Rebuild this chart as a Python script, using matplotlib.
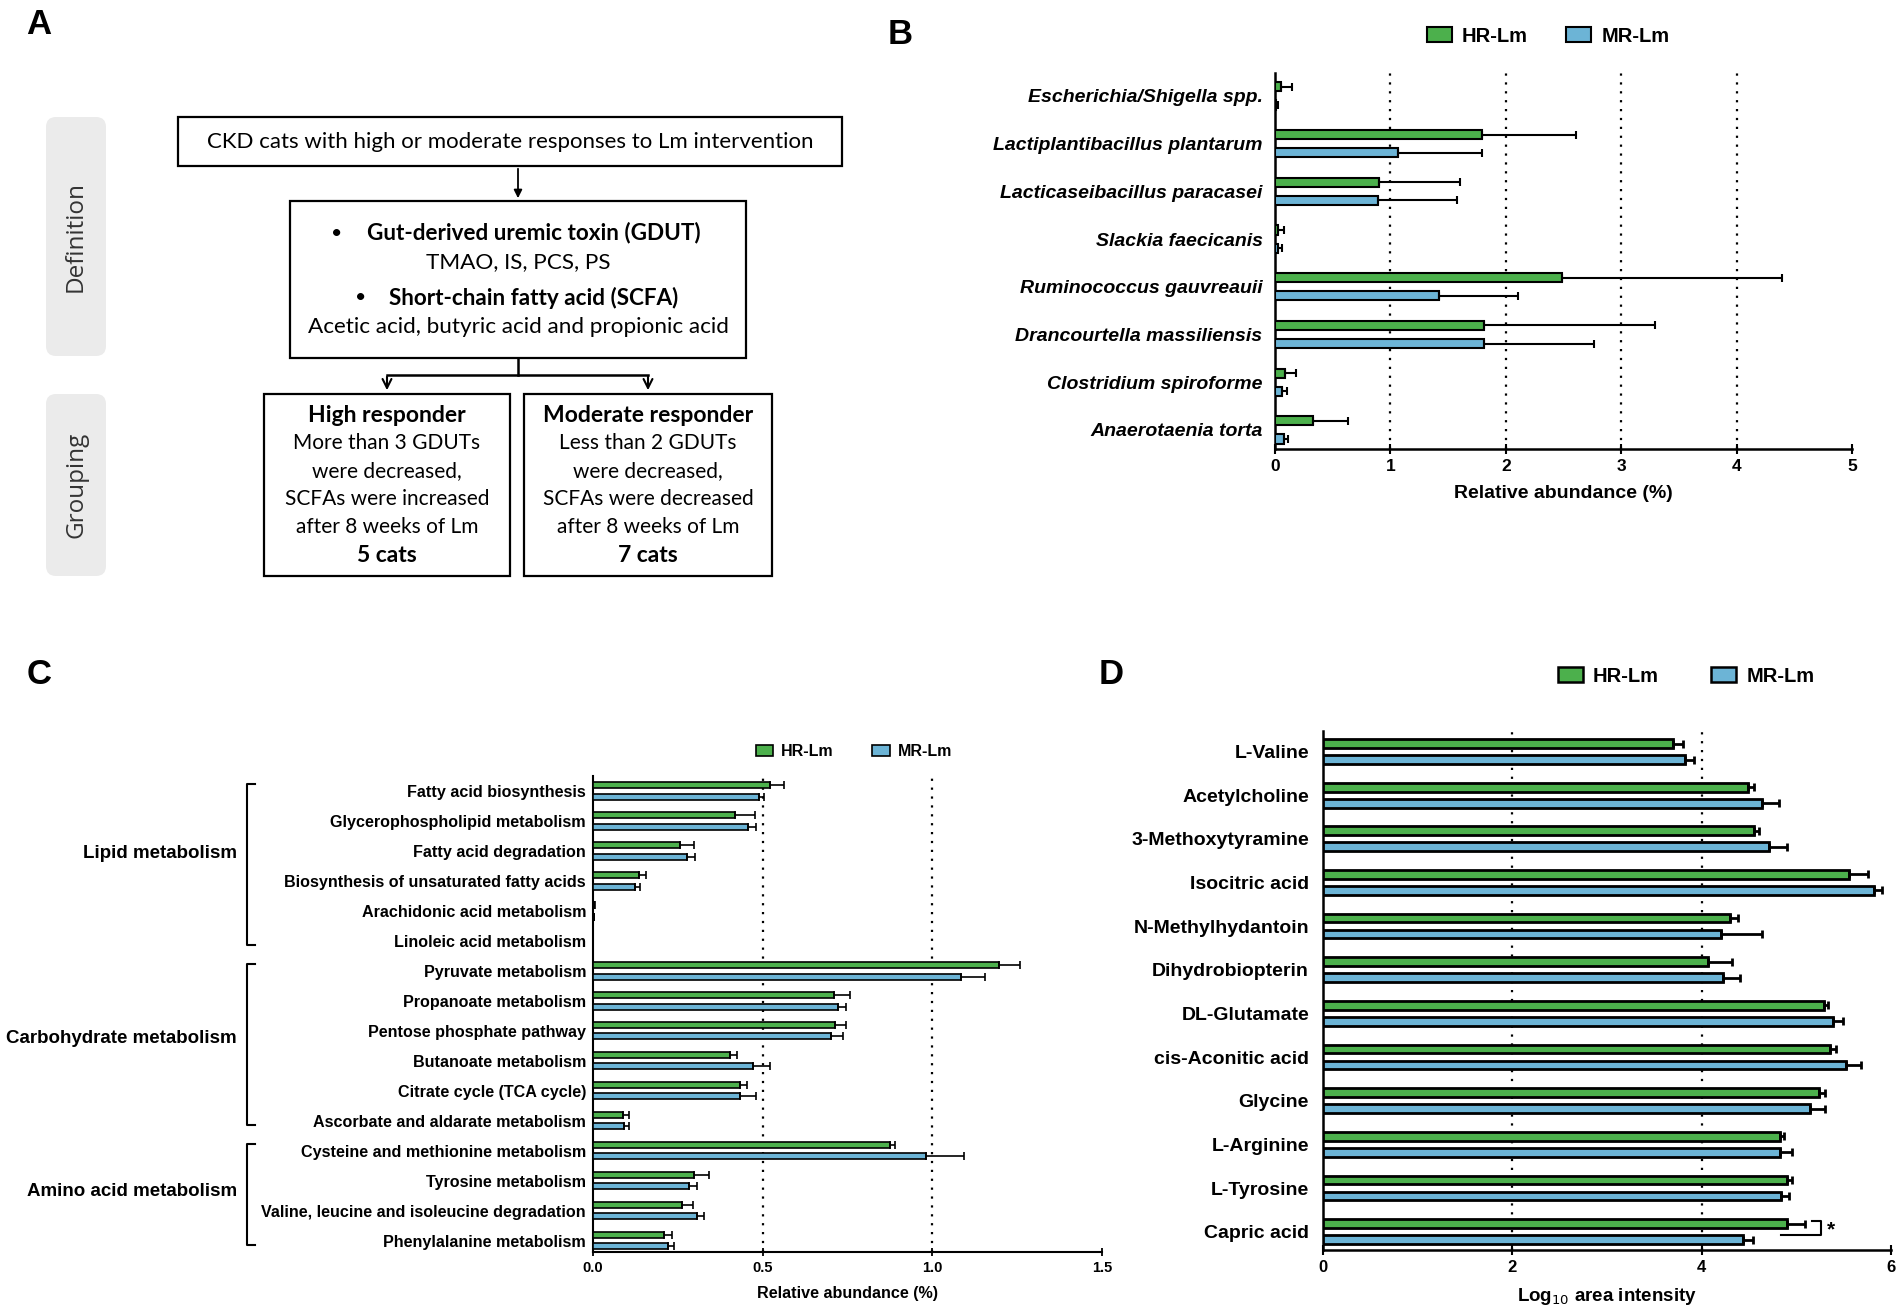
import numpy as np
import matplotlib
matplotlib.use("Agg")
import matplotlib.pyplot as plt
from matplotlib.patches import FancyBboxPatch, Rectangle, Patch

plt.rcParams['font.family'] = ['Liberation Sans', 'DejaVu Sans']

GREEN = '#4cb04c'
BLUE = '#6cb4d6'

# ---- panel B data: relative abundance (%) ----
b_species = ['Escherichia/Shigella spp.', 'Lactiplantibacillus plantarum',
             'Lacticaseibacillus paracasei', 'Slackia faecicanis',
             'Ruminococcus gauvreauii', 'Drancourtella massiliensis',
             'Clostridium spiroforme', 'Anaerotaenia torta']
b_hr = [0.055, 1.79, 0.905, 0.03, 2.49, 1.81, 0.085, 0.33]
b_hr_top = [0.15, 2.61, 1.60, 0.075, 4.39, 3.29, 0.18, 0.63]
b_mr = [0.01, 1.065, 0.89, 0.026, 1.42, 1.81, 0.063, 0.075]
b_mr_top = [0.03, 1.79, 1.58, 0.06, 2.11, 2.76, 0.105, 0.11]

# ---- panel C data: KEGG pathways ----
c_pathways = ['Fatty acid biosynthesis', 'Glycerophospholipid metabolism',
              'Fatty acid degradation', 'Biosynthesis of unsaturated fatty acids',
              'Arachidonic acid metabolism', 'Linoleic acid metabolism',
              'Pyruvate metabolism', 'Propanoate metabolism',
              'Pentose phosphate pathway', 'Butanoate metabolism',
              'Citrate cycle (TCA cycle)', 'Ascorbate and aldarate metabolism',
              'Cysteine and methionine metabolism', 'Tyrosine metabolism',
              'Valine, leucine and isoleucine degradation', 'Phenylalanine metabolism']
c_hr = [0.523, 0.419, 0.255, 0.135, 0.003, 0.0, 1.197, 0.71, 0.712, 0.405,
        0.434, 0.087, 0.876, 0.299, 0.263, 0.21]
c_hr_top = [0.564, 0.477, 0.297, 0.156, 0.006, 0.0, 1.259, 0.757, 0.747, 0.425,
            0.454, 0.106, 0.89, 0.342, 0.295, 0.234]
c_mr = [0.488, 0.456, 0.278, 0.124, 0.002, 0.0, 1.085, 0.722, 0.701, 0.471,
        0.432, 0.091, 0.981, 0.284, 0.307, 0.22]
c_mr_top = [0.504, 0.481, 0.301, 0.139, 0.004, 0.0, 1.156, 0.747, 0.737, 0.523,
            0.479, 0.106, 1.093, 0.307, 0.328, 0.239]
c_groups = ['Lipid metabolism', 'Carbohydrate metabolism', 'Amino acid metabolism']
c_group_span = [(0, 5), (6, 11), (12, 15)]

# ---- panel D data: log10 area intensity ----
d_metab = ['L-Valine', 'Acetylcholine', '3-Methoxytyramine', 'Isocitric acid',
           'N-Methylhydantoin', 'Dihydrobiopterin', 'DL-Glutamate',
           'cis-Aconitic acid', 'Glycine', 'L-Arginine', 'L-Tyrosine', 'Capric acid']
d_hr = [3.70, 4.49, 4.55, 5.56, 4.30, 4.07, 5.29, 5.36, 5.24, 4.83, 4.90, 4.90]
d_hr_top = [3.80, 4.55, 4.61, 5.76, 4.38, 4.32, 5.33, 5.42, 5.30, 4.87, 4.95, 5.09]
d_mr = [3.82, 4.64, 4.71, 5.82, 4.20, 4.23, 5.39, 5.52, 5.14, 4.83, 4.84, 4.44]
d_mr_top = [3.92, 4.82, 4.90, 5.90, 4.64, 4.41, 5.49, 5.68, 5.30, 4.95, 4.92, 4.54]

W, H = 1902, 1312
fig = plt.figure(figsize=(W / 100, H / 100), dpi=100)


def ax_rect(x0, y0, x1, y1):
    # pixel box (top-left origin) -> figure fraction
    return [x0 / W, 1 - y1 / H, (x1 - x0) / W, (y1 - y0) / H]


def bar_panel(ax, labels, hr, hr_top, mr, mr_top, off, h, lw, xmax, ticks, grid):
    y = np.arange(len(labels))
    n = len(labels)
    hr = np.array(hr); mr = np.array(mr)
    ekw = dict(ecolor='black', elinewidth=lw, capsize=3, capthick=lw)
    ax.barh(y - off, hr, height=h, color=GREEN, edgecolor='black', linewidth=lw,
            xerr=[np.zeros(n), np.array(hr_top) - hr], error_kw=ekw, zorder=3)
    ax.barh(y + off, mr, height=h, color=BLUE, edgecolor='black', linewidth=lw,
            xerr=[np.zeros(n), np.array(mr_top) - mr], error_kw=ekw, zorder=3)
    for g in grid:
        ax.axvline(g, color='black', linestyle=(0, (1, 3)), linewidth=1.6, zorder=1)
    ax.set_xlim(0, xmax)
    ax.set_xticks(ticks)
    ax.set_yticks(y)
    ax.set_yticklabels(labels)
    for s in ['top', 'right']:
        ax.spines[s].set_visible(False)
    for s in ['left', 'bottom']:
        ax.spines[s].set_linewidth(1.8)
    ax.tick_params(axis='y', length=0)
    ax.tick_params(axis='x', direction='inout', length=7, width=1.5)
    return y


def legend_at(cx, cy, size, lw, handlelength, handleheight, colsp):
    fig.legend(handles=[Patch(facecolor=GREEN, edgecolor='black', lw=lw, label='HR-Lm'),
                        Patch(facecolor=BLUE, edgecolor='black', lw=lw, label='MR-Lm')],
               loc='center', bbox_to_anchor=(cx / W, 1 - cy / H), ncol=2, frameon=False,
               prop=dict(size=size, weight='bold'), handlelength=handlelength,
               handleheight=handleheight, handletextpad=0.5, columnspacing=colsp)


# ================= Panel A (diagram) =================
axA = fig.add_axes([0, 0, 1, 1])
axA.set_xlim(0, W)
axA.set_ylim(H, 0)
axA.axis('off')
fa = ['Lato', 'DejaVu Sans']

for (y0, y1, lab) in [(117, 356, 'Definition'), (394, 576, 'Grouping')]:
    axA.add_patch(FancyBboxPatch((46, y0), 60, y1 - y0,
                                 boxstyle='round,pad=0,rounding_size=10',
                                 facecolor='#ebebeb', edgecolor='none'))
    axA.text(76, (y0 + y1) / 2, lab, rotation=90, ha='center', va='center',
             fontsize=17.5, color='#333333', family=['Open Sans', 'DejaVu Sans'])

for (x0, y0, x1, y1) in [(178, 117, 842, 166), (290, 201, 746, 358),
                         (264, 394, 510, 576), (524, 394, 772, 576)]:
    axA.add_patch(Rectangle((x0, y0), x1 - x0, y1 - y0, facecolor='white',
                            edgecolor='black', linewidth=1.6))

axA.text(510, 141.5, 'CKD cats with high or moderate responses to Lm intervention',
         ha='center', va='center', fontsize=16, family=fa)
axA.annotate('', xy=(518, 201), xytext=(518, 166),
             arrowprops=dict(arrowstyle='-|>', color='black', lw=1.3, mutation_scale=12))
axA.text(337, 233, '•', ha='center', va='center', fontsize=14, family=fa)
axA.text(534, 233, 'Gut-derived uremic toxin (GDUT)', ha='center', va='center',
         fontsize=16.2, fontweight='bold', family=fa)
axA.text(518, 262, 'TMAO, IS, PCS, PS', ha='center', va='center', fontsize=16.2, family=fa)
axA.text(361, 298, '•', ha='center', va='center', fontsize=14, family=fa)
axA.text(534, 298, 'Short-chain fatty acid (SCFA)', ha='center', va='center',
         fontsize=16.2, fontweight='bold', family=fa)
axA.text(518, 327, 'Acetic acid, butyric acid and propionic acid', ha='center',
         va='center', fontsize=16.2, family=fa)

axA.plot([518, 518], [358, 375], color='black', lw=1.8)
axA.plot([387, 648], [375, 375], color='black', lw=1.8)
for xa in [387, 648]:
    axA.annotate('', xy=(xa, 393), xytext=(xa, 374),
                 arrowprops=dict(arrowstyle='->', color='black', lw=1.5, mutation_scale=16))

box_lines = [
    (387, ['High responder', 'More than 3 GDUTs', 'were decreased,',
           'SCFAs were increased', 'after 8 weeks of Lm', '5 cats']),
    (648, ['Moderate responder', 'Less than 2 GDUTs', 'were decreased,',
           'SCFAs were decreased', 'after 8 weeks of Lm', '7 cats']),
]
for cx, lines in box_lines:
    for i, t in enumerate(lines):
        bold = i in (0, 5)
        axA.text(cx, 415 + 28 * i, t, ha='center', va='center',
                 fontsize=16.5 if bold else 15,
                 fontweight='bold' if bold else 'normal', family=fa)

for lab, x, y in [('A', 39, 24), ('B', 900, 34), ('C', 39, 674), ('D', 1111, 674)]:
    axA.text(x, y, lab, ha='center', va='center', fontsize=25, fontweight='bold')

# ================= Panel B =================
axB = fig.add_axes(ax_rect(1275, 73, 1852, 449))
bar_panel(axB, b_species, b_hr, b_hr_top, b_mr, b_mr_top, off=0.19, h=0.19,
          lw=1.5, xmax=5, ticks=[0, 1, 2, 3, 4, 5], grid=[1, 2, 3, 4])
axB.set_ylim(len(b_species) - 1 + 0.4, -0.48)
axB.set_xticklabels(['0', '1', '2', '3', '4', '5'], fontsize=12.5, fontweight='bold')
for t in axB.get_yticklabels():
    t.set_fontsize(14); t.set_fontweight('bold'); t.set_fontstyle('italic')
axB.tick_params(axis='y', pad=9)
axB.set_xlabel('Relative abundance (%)', fontsize=14, fontweight='bold', labelpad=8)
legend_at(1548, 36, 14.5, 1.5, 1.25, 0.75, 1.9)

# ================= Panel C =================
axC = fig.add_axes(ax_rect(593, 776, 1102, 1252))
bar_panel(axC, c_pathways, c_hr, c_hr_top, c_mr, c_mr_top, off=0.19, h=0.2,
          lw=1.2, xmax=1.5, ticks=[0, 0.5, 1.0, 1.5], grid=[0.5, 1.0])
axC.set_ylim(len(c_pathways) - 1 + 0.38, -0.5)
axC.set_xticklabels(['0.0', '0.5', '1.0', '1.5'], fontsize=10.5, fontweight='bold')
for t in axC.get_yticklabels():
    t.set_fontsize(11.6); t.set_fontweight('bold')
axC.tick_params(axis='y', pad=5)
axC.tick_params(axis='x', length=6, width=1.3)
for s in ['left', 'bottom']:
    axC.spines[s].set_linewidth(1.5)
axC.set_xlabel('Relative abundance (%)', fontsize=11.6, fontweight='bold', labelpad=8)

trC = axC.get_yaxis_transform()
for name, (i0, i1), ly in zip(c_groups, c_group_span, [2.1, 8.26, 13.37]):
    axC.plot([-0.665, -0.68, -0.68, -0.665], [i0 - 0.22, i0 - 0.22, i1 + 0.15, i1 + 0.15],
             transform=trC, color='black', lw=1.5, clip_on=False)
    axC.text(-0.70, ly, name, transform=trC, ha='right', va='center',
             fontsize=13.5, fontweight='bold')

legend_at(854, 752, 11.5, 1.2, 1.1, 0.7, 2.4)

# ================= Panel D =================
axD = fig.add_axes(ax_rect(1323, 731, 1891, 1250))
bar_panel(axD, d_metab, d_hr, d_hr_top, d_mr, d_mr_top, off=0.183, h=0.2,
          lw=2.0, xmax=6, ticks=[0, 2, 4, 6], grid=[2, 4])
axD.set_ylim(len(d_metab) - 1 + 0.42, -0.47)
axD.set_xticklabels(['0', '2', '4', '6'], fontsize=12, fontweight='bold')
for t in axD.get_yticklabels():
    t.set_fontsize(14); t.set_fontweight('bold')
axD.tick_params(axis='y', pad=10)
axD.set_xlabel('Log$_{10}$ area intensity', fontsize=13.5, fontweight='bold', labelpad=8)
# significance bracket for Capric acid
ci = len(d_metab) - 1
axD.plot([5.17, 5.26, 5.26, 4.84], [ci - 0.25, ci - 0.25, ci + 0.07, ci + 0.07],
         color='black', lw=1.5, clip_on=False)
axD.text(5.37, ci - 0.05, '*', ha='center', va='center', fontsize=15, fontweight='bold')

legend_at(1686, 676, 14.5, 1.8, 1.25, 0.75, 2.6)

fig.savefig('out.png', dpi=100)
